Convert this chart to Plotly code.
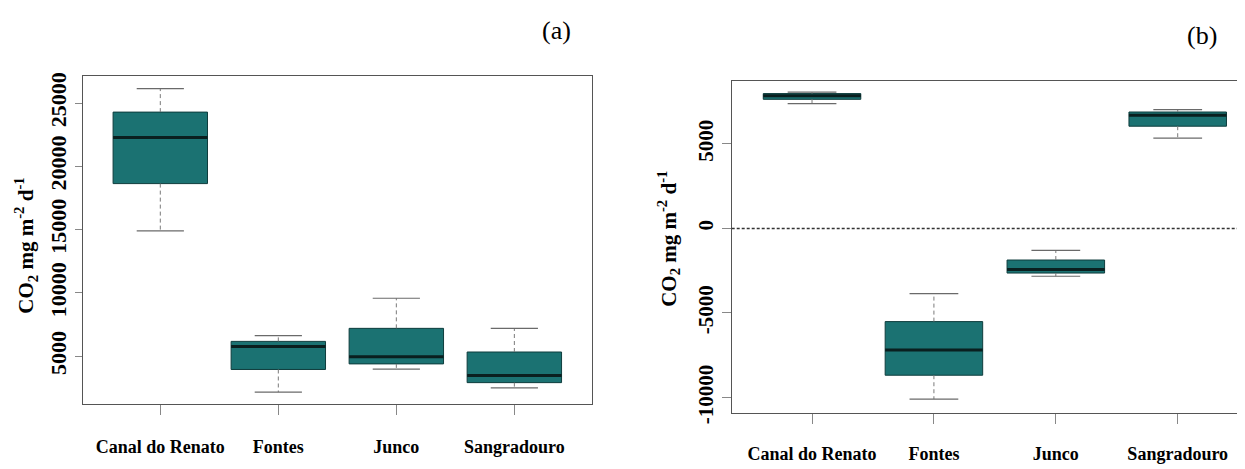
import plotly.graph_objects as go

# ---- data ----
categories = ["Canal do Renato", "Fontes", "Junco", "Sangradouro"]
positions = [1, 2, 3, 4]

a_lower = [14900, 2160, 3980, 2490]
a_q1 = [18640, 3950, 4390, 2910]
a_med = [22290, 5770, 4950, 3470]
a_q3 = [24290, 6170, 7200, 5330]
a_upper = [26150, 6630, 9580, 7200]

b_lower = [7380, -10090, -2830, 5330]
b_q1 = [7630, -8680, -2640, 6040]
b_med = [7840, -7190, -2430, 6690]
b_q3 = [7970, -5510, -1870, 6880]
b_upper = [8050, -3860, -1300, 7020]

a_ticks = [5000, 10000, 15000, 20000, 25000]
b_ticks = [-10000, -5000, 0, 5000]

# ---- style ----
FILL = "#1b7272"
EDGE = "#0f3d3d"
MED = "#0a1f1f"
WHISK = "#7a7a7a"
CAP = "#6a6a6a"
FRAME = "#555555"
FONT = "Liberation Serif, Times New Roman, serif"
BOXW = 0.8
CAPW = 0.4

fig = go.Figure()


def add_panel(xa, ya, lower, q1, med, q3, upper):
    fig.add_trace(go.Box(
        x=positions, q1=q1, median=med, q3=q3, lowerfence=q1, upperfence=q3,
        width=BOXW, fillcolor=FILL, line=dict(color=EDGE, width=1),
        whiskerwidth=0, xaxis=xa, yaxis=ya, hoverinfo="skip", showlegend=False,
    ))
    mx, my = [], []
    for p, m in zip(positions, med):
        mx += [p - BOXW / 2, p + BOXW / 2, None]
        my += [m, m, None]
    fig.add_trace(go.Scatter(x=mx, y=my, mode="lines", line=dict(color=MED, width=3),
                             xaxis=xa, yaxis=ya, hoverinfo="skip", showlegend=False))
    wx, wy = [], []
    for p, lo, a, b, hi in zip(positions, lower, q1, q3, upper):
        wx += [p, p, None, p, p, None]
        wy += [b, hi, None, a, lo, None]
    fig.add_trace(go.Scatter(x=wx, y=wy, mode="lines",
                             line=dict(color=WHISK, width=1, dash="4px,3px"),
                             xaxis=xa, yaxis=ya, hoverinfo="skip", showlegend=False))
    cx, cy = [], []
    for p, lo, hi in zip(positions, lower, upper):
        cx += [p - CAPW / 2, p + CAPW / 2, None, p - CAPW / 2, p + CAPW / 2, None]
        cy += [hi, hi, None, lo, lo, None]
    fig.add_trace(go.Scatter(x=cx, y=cy, mode="lines", line=dict(color=CAP, width=1.2),
                             xaxis=xa, yaxis=ya, hoverinfo="skip", showlegend=False))


add_panel("x", "y", a_lower, a_q1, a_med, a_q3, a_upper)
add_panel("x2", "y2", b_lower, b_q1, b_med, b_q3, b_upper)

# page has an 8px body margin: figure size and pixel targets are offset by it
OFF = 8
W, H = 1245 - OFF, 469 - OFF


def px(v):
    return (v - OFF) / W


def py(v):
    return 1 - (v - OFF) / H


tickfont_x = dict(family=FONT, size=18, color="black", weight="bold")

xcommon = dict(tickvals=positions, ticktext=categories, ticks="outside", ticklen=10,
               tickcolor="#888", showgrid=False, zeroline=False, showline=True,
               linecolor=FRAME, linewidth=1, tickfont=tickfont_x)
ycommon = dict(ticks="outside", tickcolor="#888", showgrid=False, zeroline=False,
               showline=True, linecolor=FRAME, linewidth=1, tickangle=-90)

fig.update_layout(
    width=W, height=H,
    margin=dict(l=0, r=0, t=0, b=0),
    paper_bgcolor="white", plot_bgcolor="white",
    showlegend=False,
    xaxis=dict(domain=[px(83), px(592)], range=[0.345, 4.658], mirror=True,
               anchor="y", ticklabelstandoff=17, **xcommon),
    yaxis=dict(domain=[py(413), py(75)], range=[1245, 27146],
               tickvals=a_ticks, ticktext=[str(v) for v in a_ticks],
               ticklen=7, mirror=True, anchor="x",
               tickfont=dict(family=FONT, size=22, color="black", weight="bold"),
               **ycommon),
    xaxis2=dict(domain=[px(731.7), 1.0], range=[0.341, 4.552], mirror=True,
                anchor="y2", ticklabelstandoff=14, **xcommon),
    yaxis2=dict(domain=[py(422.7), py(80)], range=[-10919, 8724],
                tickvals=b_ticks, ticktext=[str(v) for v in b_ticks],
                ticklen=9, anchor="x2",
                tickfont=dict(family=FONT, size=21, color="black", weight="bold"),
                **ycommon),
)

fig.add_shape(type="line", xref="x2 domain", x0=0, x1=1, yref="y2", y0=0, y1=0,
              line=dict(color="#333", width=1.5, dash="3px,2px"))

title = "CO<sub>2</sub> mg m<sup>-2</sup> d<sup>-1</sup>"
for xp, yp in [(26, 250), (669, 243)]:
    fig.add_annotation(text="<b>" + title + "</b>", xref="paper", yref="paper",
                       x=px(xp), y=py(yp), textangle=-90, showarrow=False,
                       font=dict(family=FONT, size=21, color="black"),
                       xanchor="center", yanchor="middle")

for lab, xp, yp in [("(a)", 556, 28), ("(b)", 1202, 33)]:
    fig.add_annotation(text=lab, xref="paper", yref="paper", x=px(xp), y=py(yp),
                       showarrow=False, font=dict(family=FONT, size=26, color="black"),
                       xanchor="center", yanchor="middle")

fig.write_html("out.html")
